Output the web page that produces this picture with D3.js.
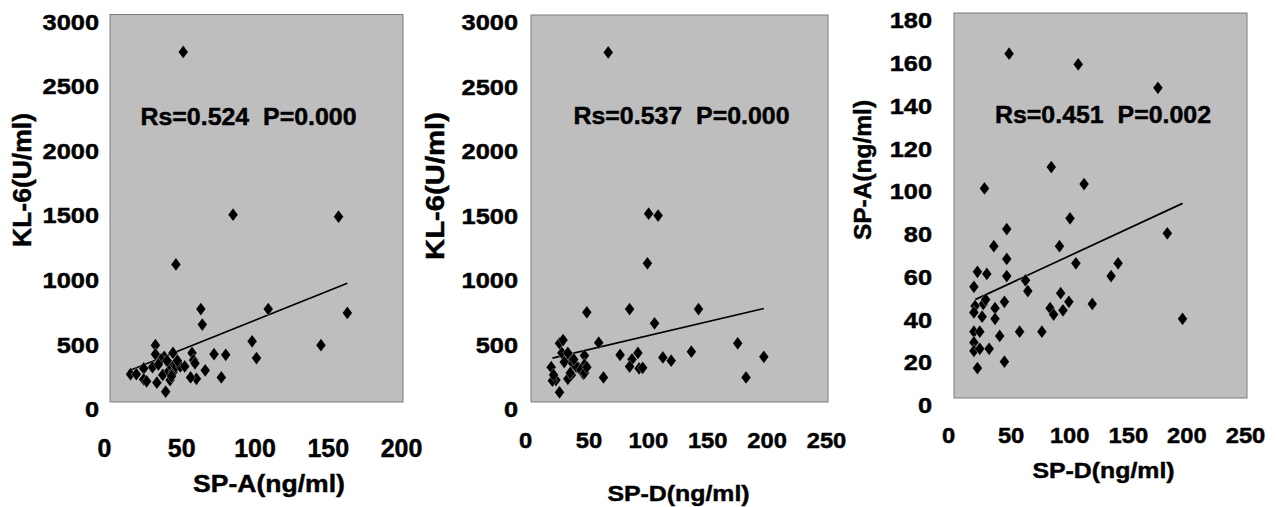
<!DOCTYPE html>
<html><head><meta charset="utf-8">
<script src="https://cdn.jsdelivr.net/npm/d3@7"></script>
<style>
body{margin:0;background:#fff}
svg{display:block}
text{font-family:"Liberation Sans",Arial,Helvetica,sans-serif;font-weight:bold;fill:#000;stroke:#000;stroke-width:0.45px}
</style>
</head><body>
<svg id="chart" width="1277" height="507"></svg>
<script>
// ---- Panel 1: SP-A vs KL-6 ----
const p1SPA = [50,84,156,45,108,162,62,63,97,144,100,79,71,65,76,59,55,56,57,58,31,31,43,37,29,23,32,38,23,25,14,18,36,40,41,40,42,43,44,45,48,51,35,39,46,42,33];
const p1KL6 = [2710,1450,1435,1065,720,690,720,600,470,440,340,365,370,245,190,180,190,380,325,300,440,370,380,350,270,260,150,80,175,160,215,215,210,300,170,240,270,230,290,275,275,275,330,320,320,200,290];
const p1TrendX = [12.5,162];
const p1TrendY = [240,920];
// ---- Panel 2: SP-D vs KL-6 ----
const p2SPD = [65,99,107,98,47,83,141,104,57,174,135,90,75,85,83,91,94,111,118,196,181,61,45,45,44,40,33,34,31,24,21,18,17,19,24,27,26,28,31,35,38,42,45,33,47,36];
const p2KL6 = [2710,1460,1445,1075,695,720,720,610,460,455,390,380,365,330,275,260,265,345,320,350,190,190,360,290,220,265,340,210,180,75,170,165,270,210,455,480,380,310,380,300,275,250,225,225,270,330];
const p2TrendX = [18,196];
const p2TrendY = [340,725];
// ---- Panel 3: SP-D vs SP-A ----
const p3SPD = [47,106,174,83,111,26,99,45,182,34,90,45,104,140,134,28,20,45,17,61,63,91,98,118,43,25,18,17,35,24,35,82,85,93,195,17,22,56,75,39,17,17,22,30,43,20,27];
const p3SPA = [161,156,145,108,100,98,84,79,77,71,71,65,63,63,57,58,59,57,52,55,50,49,45,44,45,44,43,40,42,38,37,42,39,41,37,31,31,31,31,29,26,22,23,23,17,14,46];
const p3TrendX = [18,195];
const p3TrendY = [46,91];
// ---- ticks & labels ----
const xTicksA = [0,50,100,150,200];
const xTicksD = [0,50,100,150,200,250];
const yTicksKL = [0,500,1000,1500,2000,2500,3000];
const yTicksSPA = [0,20,40,60,80,100,120,140,160,180];
const stats = ["Rs=0.524  P=0.000","Rs=0.537  P=0.000","Rs=0.451  P=0.002"];
const xTitles = ["SP-A(ng/ml)","SP-D(ng/ml)","SP-D(ng/ml)"];
const yTitles = ["KL-6(U/ml)","KL-6(U/ml)","SP-A(ng/ml)"];

const panels = [
  {xs:p1SPA, ys:p1KL6, tx:p1TrendX, ty:p1TrendY, xTicks:xTicksA, yTicks:yTicksKL,
   box:{l:110,r:403,t:14.5,b:402}, yGap:11, xLab:{off:54.5,size:25,sx:1.0},
   stat:{x:248.5,y:125,size:23.3,sx:1.07},
   xt:{x:269,y:491.5,size:23.5,sx:1.13}, yt:{x:31,y:180,size:26.5,sx:1}},
  {xs:p2SPD, ys:p2KL6, tx:p2TrendX, ty:p2TrendY, xTicks:xTicksD, yTicks:yTicksKL,
   box:{l:531,r:828,t:15,b:402}, yGap:13, xLab:{off:46,size:22,sx:1.08},
   stat:{x:681.5,y:124,size:23.3,sx:1.07},
   xt:{x:678.5,y:500.5,size:22,sx:1.13}, yt:{x:444,y:186,size:25,sx:1.17}},
  {xs:p3SPD, ys:p3SPA, tx:p3TrendX, ty:p3TrendY, xTicks:xTicksD, yTicks:yTicksSPA,
   box:{l:954,r:1247,t:13,b:398}, yGap:22, xLab:{off:45,size:22,sx:1.08},
   stat:{x:1103,y:123,size:23.3,sx:1.07},
   xt:{x:1103.5,y:477.5,size:22,sx:1.13}, yt:{x:871,y:170,size:24.5,sx:1}}
];

const svg = d3.select("#chart");
const yTickFont = 21.5, yTickSX = 1.18;
const diamond = {
  draw(ctx, size){
    const k = 1.33, hw = Math.sqrt(size/(2*k)), hh = hw*k;
    ctx.moveTo(0,-hh); ctx.lineTo(hw,0); ctx.lineTo(0,hh); ctx.lineTo(-hw,0); ctx.closePath();
  }
};
const fmt = d3.format("d");

panels.forEach((p, i) => {
  const b = p.box;
  const x = d3.scaleLinear().domain([0, d3.max(p.xTicks)]).range([b.l, b.r]);
  const y = d3.scaleLinear().domain([0, d3.max(p.yTicks)]).range([b.b, b.t]);
  const g = svg.append("g");

  g.append("rect").attr("x", b.l).attr("y", b.t).attr("width", b.r-b.l).attr("height", b.b-b.t)
    .attr("fill", "#bebebe").attr("stroke", "#7c7c7c").attr("stroke-width", 1);

  // y axis labels
  const ya = g.append("g").attr("transform", `translate(${b.l},0)`)
    .call(d3.axisLeft(y).tickValues(p.yTicks).tickFormat(fmt).tickSize(0).tickPadding(p.yGap));
  ya.select(".domain").remove();
  ya.selectAll("text").attr("x", -p.yGap/yTickSX).attr("y", 7).attr("dy", "0.36em")
    .attr("transform", `scale(${yTickSX},1)`)
    .style("font-size", yTickFont+"px");

  // x axis labels
  const xa = g.append("g").attr("transform", `translate(0,${b.b})`)
    .call(d3.axisBottom(x).tickValues(p.xTicks).tickFormat(fmt).tickSize(0));
  xa.select(".domain").remove();
  xa.selectAll("text").attr("y", p.xLab.off).attr("dy", 0)
    .attr("x", d => (d === 0 ? -6 : -2)/p.xLab.sx)
    .attr("transform", `scale(${p.xLab.sx},1)`)
    .style("font-size", p.xLab.size+"px");
  g.selectAll(".tick text").attr("fill", "#000");

  // trend line
  const trend = p.tx.map((v,j) => [v, p.ty[j]]);
  g.append("path").datum(trend)
    .attr("d", d3.line().x(d => x(d[0])).y(d => y(d[1])))
    .attr("fill", "none").attr("stroke", "#000").attr("stroke-width", 1.7);

  // points
  const pts = p.xs.map((v,j) => [v, p.ys[j]]);
  g.selectAll("path.pt").data(pts).join("path").attr("class","pt")
    .attr("transform", d => `translate(${x(d[0])},${y(d[1])})`)
    .attr("d", d3.symbol().type(diamond).size(66))
    .attr("fill", "#000").attr("stroke", "#fff").attr("stroke-width", 0.6).attr("stroke-opacity", 0.5);

  // stat annotation
  g.append("text").attr("transform", `translate(${p.stat.x},${p.stat.y}) scale(${p.stat.sx},1)`)
    .attr("text-anchor", "middle").style("font-size", p.stat.size+"px").style("white-space","pre")
    .text(stats[i]);

  // axis titles
  g.append("text").attr("transform", `translate(${p.xt.x},${p.xt.y}) scale(${p.xt.sx},1)`)
    .attr("text-anchor", "middle").style("font-size", p.xt.size+"px").text(xTitles[i]);
  g.append("text").attr("transform", `translate(${p.yt.x},${p.yt.y}) rotate(-90) scale(${p.yt.sx},1)`)
    .attr("text-anchor", "middle").style("font-size", p.yt.size+"px").text(yTitles[i]);
});
</script>
</body></html>
